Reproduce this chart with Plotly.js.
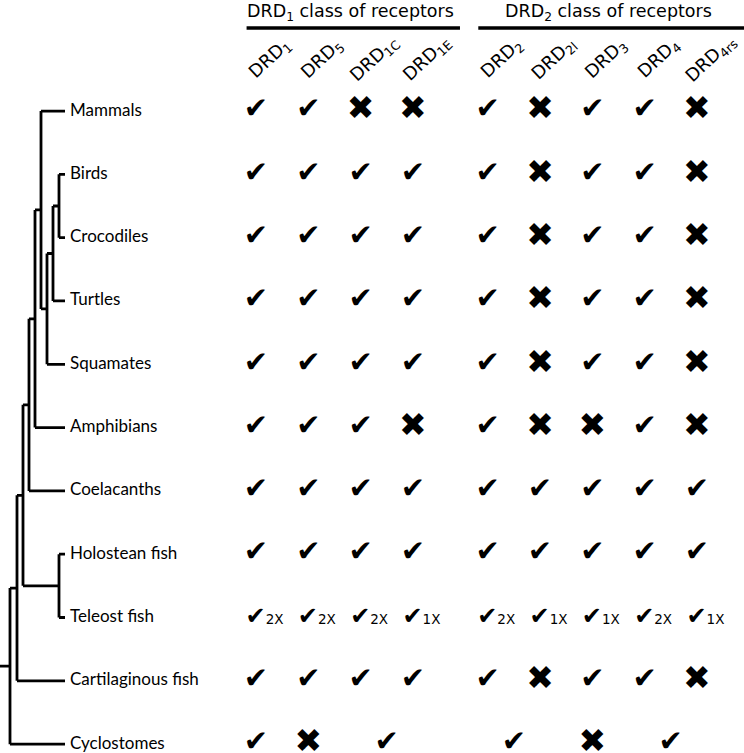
<!DOCTYPE html>
<html><head><meta charset="utf-8">
<script src="https://cdn.plot.ly/plotly-3.0.1.min.js"></script>
<style>html,body{margin:0;padding:0;background:#fff}</style>
</head><body><div id="chart" style="width:744px;height:753px"></div>
<script>
// ---------------- data ----------------
const species = ["Mammals","Birds","Crocodiles","Turtles","Squamates","Amphibians","Coelacanths","Holostean fish","Teleost fish","Cartilaginous fish","Cyclostomes"];
const receptors = ["DRD<sub>1</sub>","DRD<sub>5</sub>","DRD<sub>1C</sub>","DRD<sub>1E</sub>","DRD<sub>2</sub>","DRD<sub>2l</sub>","DRD<sub>3</sub>","DRD<sub>4</sub>","DRD<sub>4rs</sub>"];
const receptorGroup = [1,1,1,1,2,2,2,2,2];
const groupTitles = ["DRD<sub>1</sub> class of receptors","DRD<sub>2</sub> class of receptors"];
// 1 = gene present (check), 0 = gene absent (cross)
const mammals       = [1,1,0,0,1,0,1,1,0];
const birds         = [1,1,1,1,1,0,1,1,0];
const crocodiles    = [1,1,1,1,1,0,1,1,0];
const turtles       = [1,1,1,1,1,0,1,1,0];
const squamates     = [1,1,1,1,1,0,1,1,0];
const amphibians    = [1,1,1,0,1,0,0,1,0];
const coelacanths   = [1,1,1,1,1,1,1,1,1];
const holostean     = [1,1,1,1,1,1,1,1,1];
const teleost       = [1,1,1,1,1,1,1,1,1];
const teleostCopies = ["2X","2X","2X","1X","2X","1X","1X","2X","1X"];
const cartilaginous = [1,1,1,1,1,0,1,1,0];
// Cyclostomes: some genes cannot be assigned to one receptor, marks sit between two columns
const cyclostomeMarks    = [1,0,1,1,0,1];
const cyclostomeReceptor = [0,1,2.5,4.5,6,7.5];
// phylogeny: internal nodes with depth (branch position), leaves are species names
const leafDepth = 65;
const rootDepth = 0;
const tree = {d:10, c:[
  {d:17, c:[
    {d:23, c:[
      {d:29, c:[
        {d:35, c:[
          {d:41, c:["Mammals", {d:47, c:[{d:53, c:[{d:59, c:["Birds","Crocodiles"]}, "Turtles"]}, "Squamates"]}]},
          "Amphibians"]},
        "Coelacanths"]},
      {d:59, c:["Holostean fish","Teleost fish"]}]},
    "Cartilaginous fish"]},
  "Cyclostomes"]};

// ---------------- layout helpers ----------------
const groupGap = 0.43;
function colX(j){ return j + (j >= 3.5 ? groupGap : 0); }

const presenceRows = [mammals,birds,crocodiles,turtles,squamates,amphibians,coelacanths,holostean,null,cartilaginous,null];

const traces = [];
// tree segments
const tx = [], ty = [];
function walk(node){
  if (typeof node === 'string') return species.indexOf(node);
  const ys = node.c.map(ch => {
    const y = walk(ch);
    const childDepth = (typeof ch === 'string') ? leafDepth : ch.d;
    tx.push(node.d, childDepth, null); ty.push(y, y, null);
    return y;
  });
  const ymin = Math.min(...ys), ymax = Math.max(...ys);
  tx.push(node.d, node.d, null); ty.push(ymin, ymax, null);
  return (ymin + ymax) / 2;
}
const rootY = walk(tree);
tx.push(rootDepth, tree.d, null); ty.push(rootY, rootY, null);
traces.push({type:'scatter', mode:'lines', x:tx, y:ty, xaxis:'x', yaxis:'y', cliponaxis:false,
  line:{color:'#000', width:2.8}, hoverinfo:'skip', showlegend:false});

// checks and crosses
const ckX=[], ckY=[], crX=[], crY=[];
presenceRows.forEach((row,i)=>{
  if(!row) return;
  row.forEach((v,j)=>{ if(v){ckX.push(colX(j));ckY.push(i);} else {crX.push(colX(j));crY.push(i);} });
});
const cyIdx = species.indexOf("Cyclostomes");
cyclostomeMarks.forEach((v,k)=>{
  if(v){ckX.push(colX(cyclostomeReceptor[k]));ckY.push(cyIdx);} else {crX.push(colX(cyclostomeReceptor[k]));crY.push(cyIdx);}
});
traces.push({type:'scatter', mode:'text', x:ckX, y:ckY, text:ckX.map(()=>'✔'), xaxis:'x2', yaxis:'y', cliponaxis:false,
  textposition:'middle center', textfont:{family:'DejaVu Sans', size:29, color:'#000'}, hoverinfo:'skip', showlegend:false});
traces.push({type:'scatter', mode:'text', x:crX, y:crY, text:crX.map(()=>'✖'), xaxis:'x2', yaxis:'y', cliponaxis:false,
  textposition:'middle center', textfont:{family:'DejaVu Sans', size:33, color:'#000'}, hoverinfo:'skip', showlegend:false});
// teleost row: check with copy number in one text
const telIdx = species.indexOf("Teleost fish");
traces.push({type:'scatter', mode:'text', x:teleost.map((v,j)=>colX(j)-0.2), y:teleost.map(()=>telIdx),
  text:teleostCopies.map(c=>'✔<span style="font-size:13.5px">'+c+'</span>'),
  xaxis:'x2', yaxis:'y', cliponaxis:false, textposition:'middle right', marker:{size:1},
  textfont:{family:'DejaVu Sans', size:24, color:'#000'}, hoverinfo:'skip', showlegend:false});

// annotations
const annotations = [];
species.forEach((s,i)=>annotations.push({x:leafDepth, y:i, xref:'x', yref:'y', text:s, showarrow:false,
  xanchor:'left', yanchor:'middle', xshift:3, yshift:2, font:{family:'Lato', size:17, color:'#000'}}));
receptors.forEach((r,j)=>annotations.push({x:colX(j), y:1-59/753, xref:'x2', yref:'paper', text:r, showarrow:false,
  textangle:-43, xanchor:'center', yanchor:'middle', xshift:14, font:{family:'DejaVu Sans', size:18, color:'#000'}}));
const shapes = [];
[1,2].forEach((g,gi)=>{
  const cols = receptorGroup.map((v,j)=>v===g?j:null).filter(v=>v!==null);
  const x0 = colX(cols[0]), x1 = colX(cols[cols.length-1]);
  annotations.push({x:(x0+x1)/2+0.3, y:1-13/753, xref:'x2', yref:'paper', text:groupTitles[gi], showarrow:false,
    xanchor:'center', yanchor:'middle', font:{family:'DejaVu Sans', size:17.5, color:'#000'}});
  shapes.push({type:'line', xref:'x2', yref:'paper', x0:x0-0.18, x1:x1+0.9, y0:1-28/753, y1:1-28/753, line:{color:'#000', width:3.5}});
});

const layout = {
  width:744, height:753, margin:{l:0,r:0,t:0,b:0}, paper_bgcolor:'#fff', plot_bgcolor:'rgba(0,0,0,0)',
  showlegend:false,
  xaxis:{domain:[0,0.3], range:[0,223.2], visible:false, fixedrange:true},
  xaxis2:{domain:[0.3,1], range:[-0.627,9.33], visible:false, anchor:'y', fixedrange:true},
  yaxis:{range:[10.14,-1.754], visible:false, fixedrange:true},
  annotations:annotations, shapes:shapes
};
Plotly.newPlot('chart', traces, layout, {displayModeBar:false, staticPlot:true});
</script></body></html>
